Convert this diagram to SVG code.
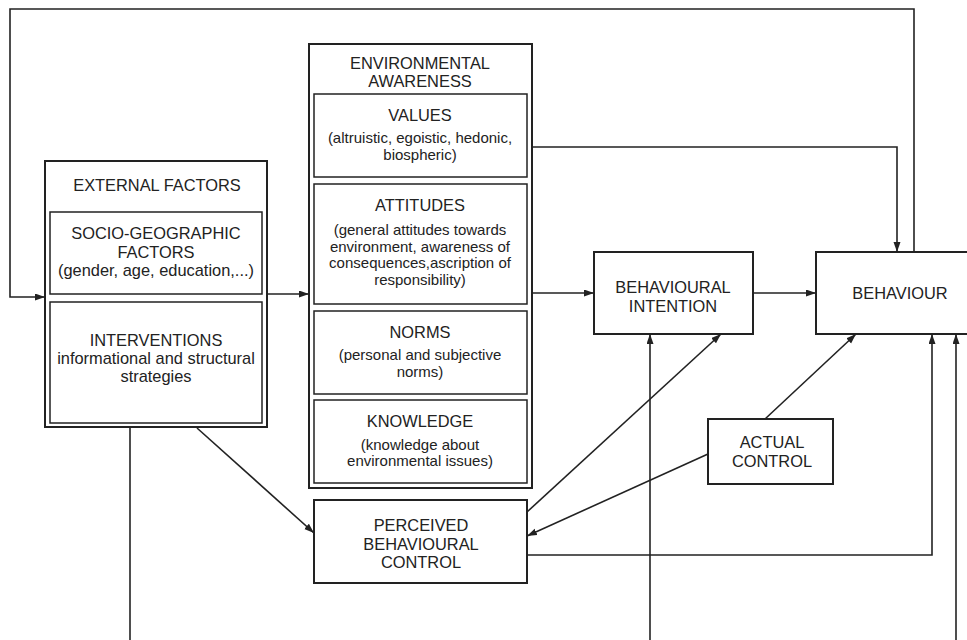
<svg xmlns="http://www.w3.org/2000/svg" width="967" height="640" viewBox="0 0 967 640">
<defs>
<marker id="arr" markerUnits="userSpaceOnUse" markerWidth="11" markerHeight="8" refX="10" refY="3.5" orient="auto">
<path d="M0,0 L10,3.5 L0,7 z" fill="#222"/>
</marker>
<style>
.box{fill:#fff;stroke:#222;stroke-width:2}
.inner{fill:#fff;stroke:#222;stroke-width:1.5}
.t{font-family:"Liberation Sans",Arial,sans-serif;font-size:16.4px;fill:#222;text-anchor:middle}
.s{font-family:"Liberation Sans",Arial,sans-serif;font-size:15px;fill:#222;text-anchor:middle}
.c{fill:none;stroke:#222;stroke-width:1.6}
.a{fill:none;stroke:#222;stroke-width:1.6;marker-end:url(#arr)}
</style>
</defs>
<rect width="967" height="640" fill="#fff"/>

<g id="external-factors">
<rect class="box" x="45" y="161" width="222" height="266"/>
<text class="t" x="157" y="191">EXTERNAL FACTORS</text>
<rect class="inner" x="50" y="212" width="212" height="82"/>
<text class="t" x="156" y="239">SOCIO-GEOGRAPHIC</text>
<text class="t" x="156" y="258">FACTORS</text>
<text class="t" x="156" y="276">(gender, age, education,...)</text>
<rect class="inner" x="50" y="302" width="212" height="121"/>
<text class="t" x="156" y="346">INTERVENTIONS</text>
<text class="t" x="156" y="364">informational and structural</text>
<text class="t" x="156" y="382">strategies</text>
</g>

<g id="environmental-awareness">
<rect class="box" x="309" y="44" width="223" height="444"/>
<text class="t" x="420" y="69">ENVIRONMENTAL</text>
<text class="t" x="420" y="87">AWARENESS</text>
<rect class="inner" x="314" y="94" width="213" height="83"/>
<text class="t" x="420" y="121">VALUES</text>
<text class="s" x="420" y="143">(altruistic, egoistic, hedonic,</text>
<text class="s" x="420" y="160">biospheric)</text>
<rect class="inner" x="314" y="184" width="213" height="120"/>
<text class="t" x="420" y="211">ATTITUDES</text>
<text class="s" x="420" y="235">(general attitudes towards</text>
<text class="s" x="420" y="252">environment, awareness of</text>
<text class="s" x="420" y="268">consequences,ascription of</text>
<text class="s" x="420" y="285">responsibility)</text>
<rect class="inner" x="314" y="311" width="213" height="83"/>
<text class="t" x="420" y="338">NORMS</text>
<text class="s" x="420" y="360">(personal and subjective</text>
<text class="s" x="420" y="377">norms)</text>
<rect class="inner" x="314" y="400" width="213" height="83"/>
<text class="t" x="420" y="427">KNOWLEDGE</text>
<text class="s" x="420" y="450">(knowledge about</text>
<text class="s" x="420" y="466">environmental issues)</text>
</g>

<g id="perceived-behavioural-control">
<rect class="box" x="314" y="500" width="213" height="83"/>
<text class="t" x="421" y="531">PERCEIVED</text>
<text class="t" x="421" y="550">BEHAVIOURAL</text>
<text class="t" x="421" y="568">CONTROL</text>
</g>

<g id="behavioural-intention">
<rect class="box" x="594" y="252" width="159" height="82"/>
<text class="t" x="673" y="293">BEHAVIOURAL</text>
<text class="t" x="673" y="312">INTENTION</text>
</g>

<g id="behaviour">
<rect class="box" x="816" y="252" width="160" height="82"/>
<text class="t" x="900" y="299">BEHAVIOUR</text>
</g>

<g id="actual-control">
<rect class="box" x="708" y="419" width="125" height="65"/>
<text class="t" x="772" y="448">ACTUAL</text>
<text class="t" x="772" y="467">CONTROL</text>
</g>

<g id="connectors">
<path class="a" d="M267,294 L309,294"/>
<path class="a" d="M532,293 L594,293"/>
<path class="a" d="M753,293 L816,293"/>
<path class="a" d="M532,147 L897,147 L897,252"/>
<path class="a" d="M914,252 L914,9 L10,9 L10,297 L45,297"/>
<path class="c" d="M130,427 L130,640"/>
<path class="a" d="M197,428 L314,533"/>
<path class="a" d="M650,640 L650,334"/>
<path class="a" d="M527,512 L721,334"/>
<path class="a" d="M765,419 L856,334"/>
<path class="a" d="M708,454 L527,536"/>
<path class="a" d="M527,555 L932,555 L932,334"/>
<path class="a" d="M956,640 L956,334"/>
</g>
</svg>
